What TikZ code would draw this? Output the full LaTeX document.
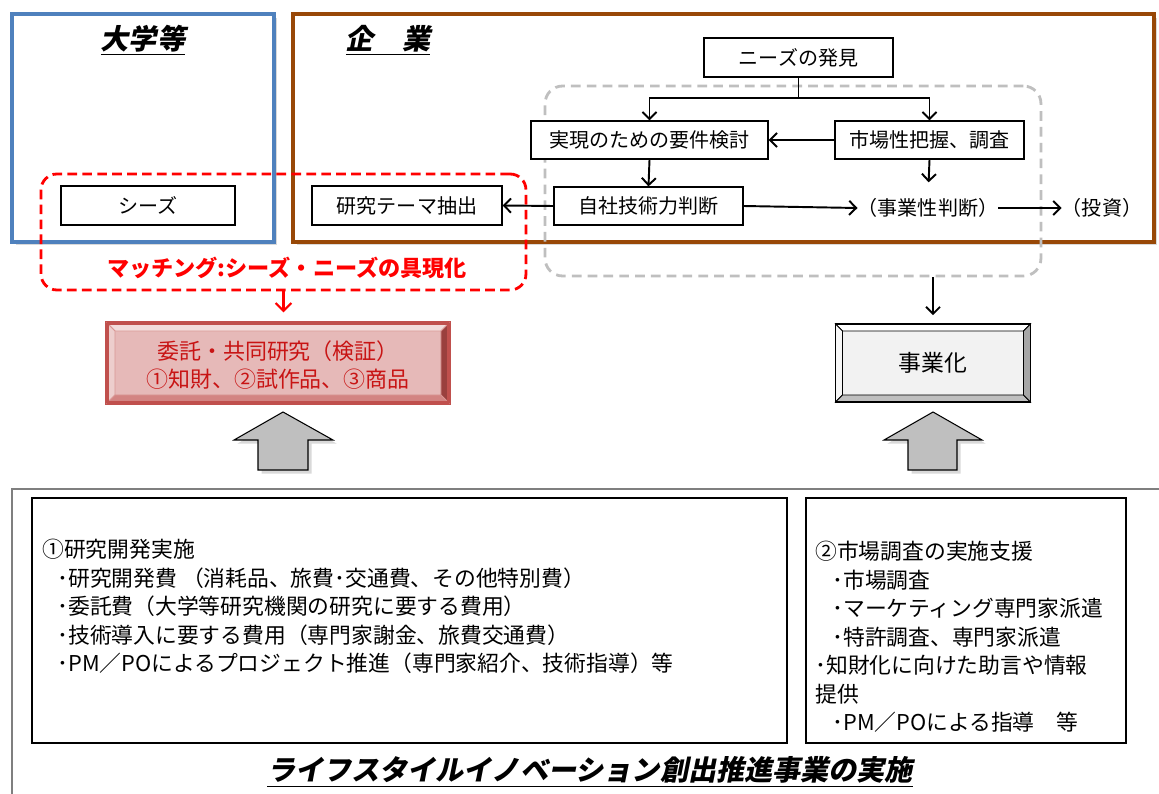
\documentclass[tikz,border=0pt]{standalone}
\usepackage{fontspec}
\setmainfont{Noto Sans CJK JP}
\newfontfamily\slantfont{Noto Sans CJK JP}[FakeSlant=0.2]
\usepackage{tikz}
\usetikzlibrary{positioning,calc,arrows.meta,shadows}

\definecolor{univblue}{RGB}{79,129,189}
\definecolor{corpbrown}{RGB}{152,72,7}
\definecolor{matchred}{RGB}{255,0,0}
\definecolor{scopegray}{RGB}{191,191,191}
\definecolor{itakufill}{RGB}{230,185,184}
\definecolor{itakuline}{RGB}{192,80,77}
\definecolor{itakutext}{RGB}{200,20,20}
\definecolor{jigyofill}{RGB}{242,242,242}
\definecolor{framegray}{RGB}{127,127,127}

\newcommand{\titlefont}{\slantfont\bfseries\fontsize{16}{18}\selectfont}
\newcommand{\boxfont}{\fontsize{11.4}{13}\selectfont}
\newcommand{\listfont}{\fontsize{12.4}{16.2}\selectfont}

% bevel: node, inset, top, left, bottom, right colour, edge colour
\newcommand{\bevel}[7]{%
  \coordinate (bNW) at ($(#1.north west)+(#2,#2)$);
  \coordinate (bNE) at ($(#1.north east)+(-#2,#2)$);
  \coordinate (bSE) at ($(#1.south east)+(-#2,-#2)$);
  \coordinate (bSW) at ($(#1.south west)+(#2,-#2)$);
  \filldraw[fill=#3, draw=#7, line width=0.5pt] (#1.north west) -- (#1.north east) -- (bNE) -- (bNW) -- cycle;
  \filldraw[fill=#4, draw=#7, line width=0.5pt] (#1.north west) -- (bNW) -- (bSW) -- (#1.south west) -- cycle;
  \filldraw[fill=#5, draw=#7, line width=0.5pt] (#1.south west) -- (bSW) -- (bSE) -- (#1.south east) -- cycle;
  \filldraw[fill=#6, draw=#7, line width=0.5pt] (#1.north east) -- (#1.south east) -- (bSE) -- (bNE) -- cycle;
}

\tikzset{
  frame/.style={line width=2.2pt, fill=white, inner sep=0pt,
    drop shadow={shadow xshift=2pt, shadow yshift=-2pt, opacity=0.3}},
  box/.style={draw=black, line width=0.7pt, fill=white, inner sep=0pt, font=\boxfont},
  plain/.style={inner sep=0pt, font=\boxfont},
  matchbox/.style={draw=matchred, line width=1.6pt, rounded corners=9pt,
    dash pattern=on 5.5pt off 3pt},
  scopebox/.style={draw=scopegray, line width=1.6pt, rounded corners=10pt,
    dash pattern=on 5.5pt off 3.5pt},
  arr/.style={-{Straight Barb[length=4pt,width=8pt]}, line width=1.1pt},
  redarr/.style={-{Straight Barb[length=4.5pt,width=9pt]}, line width=1.2pt, draw=matchred},
  bigup/.style={draw=black, line width=0.6pt, fill=scopegray,
    drop shadow={shadow xshift=2pt, shadow yshift=-2pt, opacity=0.3}},
  listbox/.style={draw=black, line width=0.7pt, fill=white, inner sep=0pt}
}

\begin{document}
\begin{tikzpicture}[x=0.02cm, y=-0.02cm]
    \useasboundingbox (0,0) rectangle (1159,794);
    \clip (0,0) rectangle (1159,794);

    % Universities and companies
    \node[frame, draw=univblue, minimum width=5.24cm, minimum height=4.56cm] (univ) at (143,128) {};
    \node[font=\titlefont] (univtitle) at (143,40) {\underline{大学等}};
    \node[frame, draw=corpbrown, minimum width=17.22cm, minimum height=4.56cm] (corp) at (723.5,128) {};
    \node[font=\titlefont] (corptitle) at (388,40) {\underline{企　業}};

    % Dashed regions
    \node[matchbox, minimum width=9.7cm, minimum height=2.32cm] (match) at (283.5,232) {};
    \node[scopebox, minimum width=9.92cm, minimum height=3.8cm] (scope) at (793,181) {};

    % Flow boxes
    \node[box, minimum width=3.48cm, minimum height=0.78cm] (seeds) at (148,205.5) {シーズ};
    \node[box, minimum width=3.8cm, minimum height=0.78cm] (theme) at (407,205.5) {研究テーマ抽出};
    \node[box, minimum width=3.78cm, minimum height=0.78cm] (needs) at (798.5,57.5) {ニーズの発見};
    \node[box, minimum width=4.74cm, minimum height=0.76cm] (req) at (649.5,140) {実現のための要件検討};
    \node[box, minimum width=3.78cm, minimum height=0.76cm] (mkt) at (929.5,140) {市場性把握、調査};
    \node[box, minimum width=3.78cm, minimum height=0.76cm] (tech) at (648.5,206) {自社技術力判断};
    \node[plain] (biz) at (928,208) {（事業性判断）};
    \node[plain] (invest) at (1102,208) {（投資）};
    \node[text=matchred, font=\bfseries\fontsize{12.6}{14}\selectfont] (matchlabel) at (287,268) {マッチング:シーズ・ニーズの具現化};

    % Connectors
    \coordinate (split) at (798.5,98);
    \draw[line width=1.1pt] (needs.south) -- (split);
    \draw[arr] (split) -| (req.north);
    \draw[arr] (split) -| (mkt.north);
    \draw[arr] (mkt.west) -- (req.east);
    \draw[arr] (req.south) -- (tech.north);
    \draw[arr] (tech.west) -- (theme.east);
    \draw[arr] (tech.east) -- (biz.west);
    \draw[arr, shorten >=9pt] (mkt.south) -- (biz.north);
    \draw[arr] (biz.east) -- (invest.west);

    % Results
    \node[draw=itakuline, fill=itakufill, line width=2pt, outer sep=0pt, minimum width=6.84cm, minimum height=1.6cm] (itaku) at (278,363) {};
    \bevel{itaku}{8}{itakufill!50!white}{itakufill!70!white}{itakuline!70!white}{itakuline!80!black}{itakuline!60!white}
    \draw[draw=itakuline, line width=2pt, rounded corners=1pt] (itaku.north west) rectangle (itaku.south east);
    \node[text=itakutext, align=center, font=\fontsize{12.5}{16}\selectfont] (itakutext) at (278,365) {委託・共同研究（検証）\\①知財、②試作品、③商品};

    \node[draw=black, fill=jigyofill, line width=0.8pt, outer sep=0pt, minimum width=3.9cm, minimum height=1.56cm] (jigyo) at (933,363) {};
    \bevel{jigyo}{7}{white}{jigyofill!60!white}{scopegray}{black!35}{black}
    \draw[line width=0.8pt] (jigyo.north west) rectangle (jigyo.south east);
    \node[font=\fontsize{13}{15}\selectfont] (jigyotext) at (933,363) {事業化};

    \draw[redarr, shorten >=6pt] (match.south) -- (match.south |- itaku.north);
    \draw[arr, shorten >=5pt] (scope.south -| jigyo.north) -- (jigyo.north);

    % Support arrows
    \draw[bigup] (283,412) -- (333,440) -- (308,440) -- (308,470) -- (258,470) -- (258,440) -- (234,440) -- cycle;
    \draw[bigup] (933,412) -- (982,440) -- (957,440) -- (957,470) -- (908,470) -- (908,440) -- (884,440) -- cycle;

    % Programme frame
    \draw[line width=1.6pt, draw=framegray, fill=white, drop shadow={shadow xshift=2pt, shadow yshift=-2pt, opacity=0.3}] (12,489) rectangle (1180,820);
    \node[listbox, minimum width=15.1cm, minimum height=4.9cm] (rnd) at (409.5,620.5) {};
    \node[listbox, minimum width=6.4cm, minimum height=4.9cm] (survey) at (966,620.5) {};
    \node[anchor=north west, inner sep=0pt, align=left, font=\listfont] (rndtext) at (42,539)
      {①研究開発実施\\
       \hspace*{0.3cm}･研究開発費 （消耗品、旅費･交通費、その他特別費）\\
       \hspace*{0.3cm}･委託費（大学等研究機関の研究に要する費用）\\
       \hspace*{0.3cm}･技術導入に要する費用（専門家謝金、旅費交通費）\\
       \hspace*{0.3cm}･PM／POによるプロジェクト推進（専門家紹介、技術指導）等};
    \node[anchor=north west, inner sep=0pt, align=left, font=\listfont] (surveytext) at (815,541)
      {②市場調査の実施支援\\
       \hspace*{0.34cm}･市場調査\\
       \hspace*{0.34cm}･マーケティング専門家派遣\\
       \hspace*{0.34cm}･特許調査、専門家派遣\\
       ･知財化に向けた助言や情報\\
       提供\\
       \hspace*{0.34cm}･PM／POによる指導　等};
    \node[font=\titlefont] (progtitle) at (590,772) {\underline{ライフスタイルイノベーション創出推進事業の実施}};
\end{tikzpicture}
\end{document}
